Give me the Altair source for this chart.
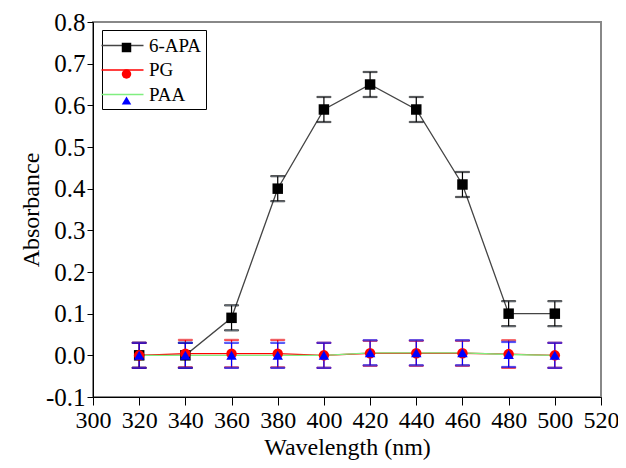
import altair as alt
import pandas as pd

wavelength = [320, 340, 360, 380, 400, 420, 440, 460, 480, 500]
apa = [0.0, 0.0, 0.09, 0.40, 0.59, 0.65, 0.59, 0.41, 0.10, 0.10]
apa_err = [0.03, 0.03, 0.03, 0.03, 0.03, 0.03, 0.03, 0.03, 0.03, 0.03]
pg = [0.0, 0.004, 0.004, 0.004, 0.0, 0.005, 0.005, 0.005, 0.003, 0.0]
pg_err = [0.03, 0.033, 0.033, 0.033, 0.03, 0.03, 0.03, 0.03, 0.033, 0.03]
paa = [0.0, 0.0, 0.0, 0.0, 0.0, 0.006, 0.006, 0.006, 0.002, 0.0]
paa_err = [0.03, 0.03, 0.03, 0.03, 0.03, 0.03, 0.03, 0.03, 0.03, 0.03]

series_names = ["6-APA", "PG", "PAA"]
marker_names = [s + " " for s in series_names]   # marker legend domain
err_names = [s + "  " for s in series_names]     # error bar domain (no legend)
line_colors = ["#444444", "#ff0000", "#80ee80"]
marker_colors = ["#000000", "#ff0000", "#0000ff"]
marker_shapes = ["square", "circle", "triangle-up"]

x_ticks = [300, 320, 340, 360, 380, 400, 420, 440, 460, 480, 500, 520]
y_ticks = [-0.1, 0.0, 0.1, 0.2, 0.3, 0.4, 0.5, 0.6, 0.7, 0.8]

rows = []
for name, mname, ename, ys, es in zip(series_names, marker_names, err_names,
                                      [apa, pg, paa], [apa_err, pg_err, paa_err]):
    for w, v, e in zip(wavelength, ys, es):
        rows.append({"w": w, "a": v, "lo": v - e, "hi": v + e,
                     "series": name, "series2": mname, "series3": ename})
df = pd.DataFrame(rows)

FONT = "Liberation Serif, Times New Roman, DejaVu Serif, serif"

x = alt.X("w:Q", scale=alt.Scale(domain=[300, 520], nice=False),
          axis=alt.Axis(values=x_ticks, title="Wavelength (nm)", labelPadding=3,
                        titlePadding=3, tickSize=8, labelFont=FONT, titleFont=FONT,
                        labelFontSize=24, titleFontSize=24, labelFlush=False))
y = alt.Y("a:Q", scale=alt.Scale(domain=[-0.1, 0.8], nice=False, zero=False),
          axis=alt.Axis(values=y_ticks, title="Absorbance",
                        labelExpr="datum.value < 0 ? '-' + format(-datum.value, '.1f') : format(datum.value, '.1f')",
                        labelPadding=2, titlePadding=2, tickSize=6,
                        labelFont=FONT, titleFont=FONT,
                        labelFontSize=25, titleFontSize=24, labelFlush=False))

base = alt.Chart(df)

lines = base.mark_line(strokeWidth=1.3).encode(
    x=x, y=y,
    color=alt.Color("series:N",
                    scale=alt.Scale(domain=series_names, range=line_colors),
                    sort=series_names,
                    legend=alt.Legend(title=None, orient="none", legendX=9, legendY=8,
                                      symbolType="M-2,0H2", symbolSize=441,
                                      symbolStrokeWidth=1.5, symbolOffset=5,
                                      labelColor="black", labelFontSize=19,
                                      labelFont=FONT, labelOffset=15,
                                      rowPadding=2.5, padding=4,
                                      strokeColor="black")),
    detail="series:N",
)

err_scale = alt.Scale(domain=err_names, range=marker_colors)

rules = base.mark_rule(strokeWidth=1.2).encode(
    x="w:Q", y="lo:Q", y2="hi:Q",
    stroke=alt.Stroke("series3:N", scale=err_scale, legend=None),
)
caps_hi = base.mark_tick(size=14, thickness=1.2, orient="horizontal").encode(
    x="w:Q", y="hi:Q",
    stroke=alt.Stroke("series3:N", scale=err_scale, legend=None),
)
caps_lo = base.mark_tick(size=14, thickness=1.2, orient="horizontal").encode(
    x="w:Q", y="lo:Q",
    stroke=alt.Stroke("series3:N", scale=err_scale, legend=None),
)

marker_legend = alt.Legend(title=None, orient="none", legendX=24, legendY=16,
                           labelFontSize=19, labelFont=FONT,
                           labelColor="transparent", rowPadding=6.5,
                           symbolSize=90, padding=0)

points = base.mark_point(filled=True, size=110, opacity=1, strokeWidth=0).encode(
    x="w:Q", y="a:Q",
    shape=alt.Shape("series2:N",
                    scale=alt.Scale(domain=marker_names, range=marker_shapes),
                    sort=marker_names, legend=marker_legend),
    fill=alt.Fill("series2:N",
                  scale=alt.Scale(domain=marker_names, range=marker_colors),
                  sort=marker_names, legend=marker_legend),
)

chart = alt.layer(lines, rules, caps_hi, caps_lo, points).properties(
    width=508, height=375, background="white",
    autosize=alt.AutoSizeParams(type="none"),
    padding={"left": 85, "top": 14, "right": 17, "bottom": 63},
).configure(font=FONT).configure_view(
    stroke="#888888", strokeWidth=2
).configure_axis(
    labelFont=FONT, labelFontSize=25, labelColor="black", labelOverlap=False,
    labelFlush=False,
    titleFont=FONT, titleFontSize=24, titleFontWeight="normal", titleColor="black",
    domainColor="black", tickColor="black", grid=False,
)

chart.save("out.html", embed_options={"renderer": "svg", "actions": False})
